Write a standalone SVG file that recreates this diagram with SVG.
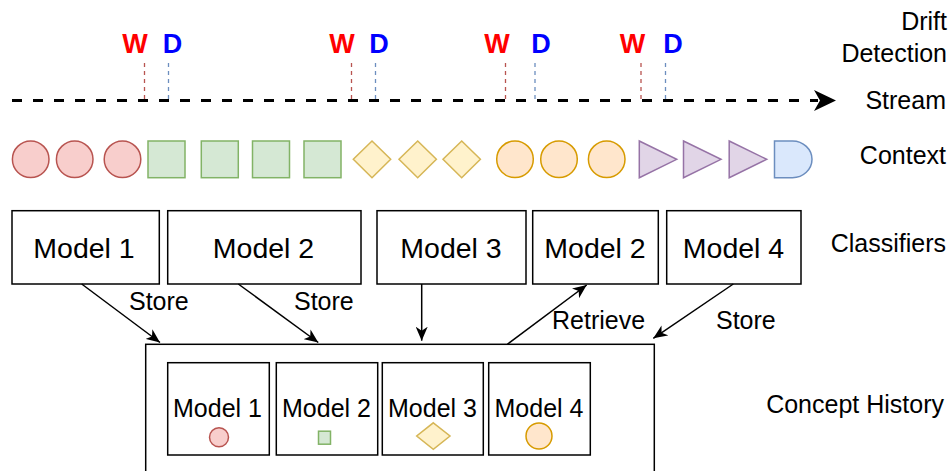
<svg xmlns="http://www.w3.org/2000/svg" width="950" height="471" viewBox="0 0 950 471">
<style>
text{font-family:"Liberation Sans",Arial,sans-serif;fill:#000}
.lbl{font-size:25px}
.side{font-size:25px;text-anchor:end}
.big{font-size:28.5px;text-anchor:middle}
.small{font-size:25px;text-anchor:middle}
.w{font-size:27px;font-weight:bold;fill:#ff0000;text-anchor:middle}
.d{font-size:27px;font-weight:bold;fill:#0000ff;text-anchor:middle}
.box{fill:#fff;stroke:#000;stroke-width:1.5}
.red{fill:#f8cecc;stroke:#b85450;stroke-width:1.5}
.green{fill:#d5e8d4;stroke:#82b366;stroke-width:1.5}
.yellow{fill:#fff2cc;stroke:#d6b656;stroke-width:1.5}
.orange{fill:#ffe6cc;stroke:#d79b00;stroke-width:1.5}
.purple{fill:#e1d5e7;stroke:#9673a6;stroke-width:1.5}
.blue{fill:#dae8fc;stroke:#6c8ebf;stroke-width:1.5}
.wl{stroke:#b85450;stroke-width:1.3;stroke-dasharray:4 4;fill:none}
.dl{stroke:#6c8ebf;stroke-width:1.3;stroke-dasharray:4 4;fill:none}
.edge{stroke:#000;stroke-width:1.5;fill:none;marker-end:url(#arr)}
</style>
<defs>
<marker id="arr" viewBox="0 0 14 12" refX="14" refY="6" markerWidth="14" markerHeight="12" markerUnits="userSpaceOnUse" orient="auto">
<path d="M0,0 L14,6 L0,12 L4,6 Z" fill="#000"/>
</marker>
</defs>

<g id="stream">
<line x1="12" y1="100.5" x2="818" y2="100.5" stroke="#000" stroke-width="3" stroke-dasharray="10 11"/>
<path d="M814,90 L836,100.5 L814,111 L820,100.5 Z" fill="#000"/>
</g>

<g id="drift-markers">
<line class="wl" x1="144.5" y1="63" x2="144.5" y2="100"/>
<line class="dl" x1="168.5" y1="63" x2="168.5" y2="100"/>
<text class="w" x="135" y="53">W</text><text class="d" x="172.5" y="53">D</text>
<line class="wl" x1="351.5" y1="63" x2="351.5" y2="100"/>
<line class="dl" x1="375.5" y1="63" x2="375.5" y2="100"/>
<text class="w" x="342" y="53">W</text><text class="d" x="379" y="53">D</text>
<line class="wl" x1="505.5" y1="63" x2="505.5" y2="100"/>
<line class="dl" x1="535" y1="63" x2="535" y2="100"/>
<text class="w" x="497" y="53">W</text><text class="d" x="541" y="53">D</text>
<line class="wl" x1="641" y1="63" x2="641" y2="100"/>
<line class="dl" x1="665.5" y1="63" x2="665.5" y2="100"/>
<text class="w" x="632.5" y="53">W</text><text class="d" x="673" y="53">D</text>
</g>

<g id="row-labels">
<text class="side" x="947" y="29.5">Drift</text>
<text class="side" x="947" y="61.5">Detection</text>
<text class="side" x="946" y="109">Stream</text>
<text class="side" x="946" y="163.5">Context</text>
<text class="side" x="946" y="251.5">Classifiers</text>
<text class="side" x="944" y="412.5">Concept History</text>
</g>

<g id="context">
<circle class="red" cx="30.7" cy="159.3" r="18.3"/>
<circle class="red" cx="74.7" cy="159.3" r="18.3"/>
<circle class="red" cx="122.5" cy="159.3" r="18.3"/>
<rect class="green" x="148" y="141" width="37" height="36.7"/>
<rect class="green" x="201.3" y="141" width="37" height="36.7"/>
<rect class="green" x="252.5" y="141" width="37" height="36.7"/>
<rect class="green" x="304" y="141" width="37" height="36.7"/>
<path class="yellow" d="M372,141 L390.7,159.3 L372,177.7 L353.3,159.3 Z"/>
<path class="yellow" d="M417.7,141 L436.4,159.3 L417.7,177.7 L399,159.3 Z"/>
<path class="yellow" d="M461.7,141 L480.4,159.3 L461.7,177.7 L443,159.3 Z"/>
<circle class="orange" cx="515" cy="159.3" r="18.3"/>
<circle class="orange" cx="559" cy="159.3" r="18.3"/>
<circle class="orange" cx="606.7" cy="159.3" r="18.3"/>
<path class="purple" d="M639.3,141 L676.7,159.3 L639.3,177.7 Z"/>
<path class="purple" d="M683.5,141 L721,159.3 L683.5,177.7 Z"/>
<path class="purple" d="M729.2,141 L766.7,159.3 L729.2,177.7 Z"/>
<path class="blue" d="M774.5,141 L792.5,141 A19.5,18.35 0 0 1 792.5,177.7 L774.5,177.7 Z"/>
</g>

<g id="classifier-m1"><rect class="box" x="12" y="210.7" width="147.3" height="73.3"/><text class="big" x="84" y="257.5">Model 1</text></g>
<g id="classifier-m2"><rect class="box" x="167.7" y="210.7" width="193.3" height="73.3"/><text class="big" x="263.5" y="257.5">Model 2</text></g>
<g id="classifier-m3"><rect class="box" x="377" y="210.7" width="149" height="73.3"/><text class="big" x="451" y="257.5">Model 3</text></g>
<g id="classifier-m2b"><rect class="box" x="532.7" y="210.7" width="125.6" height="73.3"/><text class="big" x="595" y="257.5">Model 2</text></g>
<g id="classifier-m4"><rect class="box" x="666.7" y="210.7" width="134.3" height="73.3"/><text class="big" x="733.5" y="257.5">Model 4</text></g>

<g id="concept-history">
<rect class="box" x="145.7" y="344.3" width="508.6" height="140"/>
</g>
<g id="history-m1"><rect class="box" x="167.7" y="362.7" width="101.6" height="92.3"/><text class="small" x="217.5" y="416.7">Model 1</text><circle class="red" cx="219" cy="437.3" r="9.5"/></g>
<g id="history-m2"><rect class="box" x="276.3" y="362.7" width="101.4" height="92.3"/><text class="small" x="326.5" y="416.7">Model 2</text><rect class="green" x="318.5" y="431.2" width="12" height="13"/></g>
<g id="history-m3"><rect class="box" x="382.3" y="362.7" width="101" height="92.3"/><text class="small" x="432.5" y="416.7">Model 3</text><path class="yellow" d="M433.3,422.8 L450,436 L433.3,449.3 L416.7,436 Z"/></g>
<g id="history-m4"><rect class="box" x="488.7" y="362.7" width="101.6" height="92.3"/><text class="small" x="539" y="416.7">Model 4</text><circle class="orange" cx="539" cy="436" r="13"/></g>

<g id="connectors">
<line class="edge" x1="81.7" y1="284" x2="160" y2="342.5"/>
<line class="edge" x1="238.3" y1="284" x2="318.3" y2="342.5"/>
<line class="edge" x1="421.7" y1="284" x2="421.7" y2="340.7"/>
<line class="edge" x1="507.3" y1="344.3" x2="586.7" y2="285"/>
<line class="edge" x1="733.3" y1="284" x2="653.3" y2="338.3"/>
<text class="lbl" x="129" y="310">Store</text>
<text class="lbl" x="294" y="310">Store</text>
<text class="lbl" x="552" y="328.5">Retrieve</text>
<text class="lbl" x="716" y="328.5">Store</text>
</g>
</svg>
